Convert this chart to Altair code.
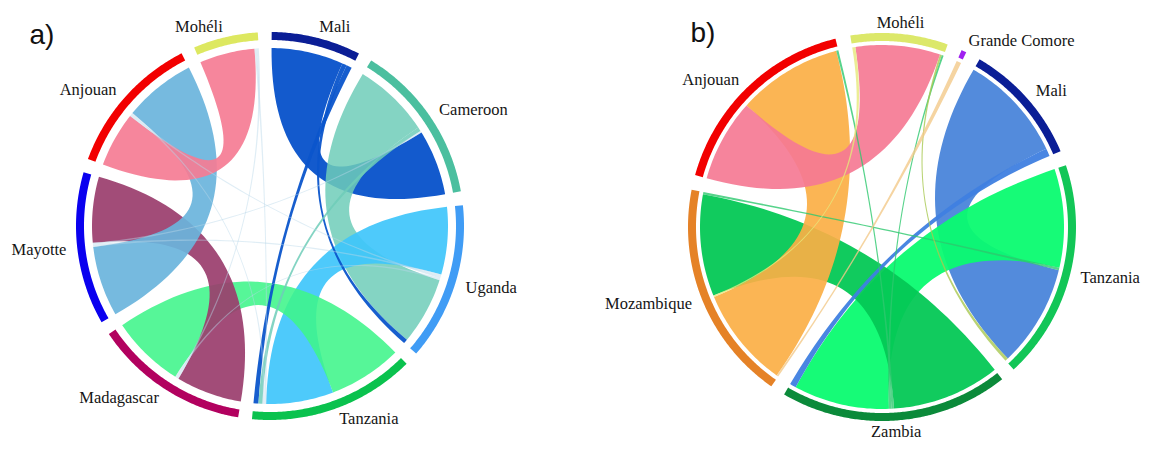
import math
import altair as alt
import pandas as pd

# ---------------- Panel a) data ----------------
a_groups = ["Mali", "Cameroon", "Uganda", "Tanzania", "Madagascar", "Mayotte", "Anjouan", "Mohéli"]
a_group_colors = ["#0B1E96", "#4BBF9F", "#409CF5", "#0AC24E", "#B2015F", "#0A00EF", "#F20000", "#DDE860"]
# chords: source, target, value at source end, value at target end
a_src = ["Mali", "Mali", "Mali", "Cameroon", "Cameroon", "Uganda", "Tanzania", "Madagascar",
         "Mayotte", "Anjouan", "Mohéli", "Mohéli", "Mayotte", "Anjouan", "Madagascar", "Mayotte", "Anjouan"]
a_tgt = ["Cameroon", "Uganda", "Tanzania", "Uganda", "Tanzania", "Tanzania", "Madagascar", "Mayotte",
         "Anjouan", "Mohéli", "Tanzania", "Madagascar", "Uganda", "Uganda", "Uganda", "Cameroon", "Tanzania"]
a_vsrc = [23.5, 1.5, 1.8, 25.0, 1.3, 22.0, 24.0, 21.5, 23.0, 18.0, 0.7, 0.7, 0.7, 0.6, 0.6, 0.6, 0.6]
a_vtgt = [21.4, 1.4, 1.6, 22.0, 1.3, 22.0, 24.0, 21.5, 23.5, 18.0, 0.6, 0.6, 0.7, 0.6, 0.6, 0.6, 0.6]
a_chord_colors = ["#0B55CB", "#0B55CB", "#0B55CB", "#6FCDB8", "#6FCDB8", "#3FC6FB", "#3FF58A", "#9A3D6D",
                  "#6AB4DC", "#F57C94", "#B8D8E8", "#B8D8E8", "#B8D8E8", "#B8D8E8", "#B8D8E8", "#B8D8E8", "#B8D8E8"]
a_chord_alpha = [0.97, 0.95, 0.95, 0.85, 0.85, 0.92, 0.88, 0.92, 0.92, 0.92, 0.45, 0.45, 0.45, 0.45, 0.45, 0.45, 0.45]
# clockwise order of chord ends inside each group
a_end_order = {
    "Mali": [0, 1, 2],
    "Cameroon": [3, 4, 15, 0],
    "Uganda": [5, 12, 13, 14, 3, 1],
    "Tanzania": [6, 5, 10, 16, 4, 2],
    "Madagascar": [7, 11, 14, 6],
    "Mayotte": [8, 12, 15, 7],
    "Anjouan": [9, 13, 16, 8],
    "Mohéli": [9, 10, 11],
}

# ---------------- Panel b) data ----------------
b_groups = ["Mali", "Tanzania", "Zambia", "Mozambique", "Anjouan", "Mohéli", "Grande Comore"]
b_group_colors = ["#0B1E96", "#12C657", "#0B8A3A", "#E58227", "#F20000", "#DCE86A", "#A020F0"]
b_src = ["Mali", "Mali", "Tanzania", "Zambia", "Mozambique", "Anjouan",
         "Zambia", "Zambia", "Tanzania", "Mohéli", "Tanzania", "Grande Comore"]
b_tgt = ["Tanzania", "Zambia", "Zambia", "Mozambique", "Anjouan", "Mohéli",
         "Anjouan", "Mohéli", "Mozambique", "Mozambique", "Mohéli", "Mozambique"]
b_vsrc = [34.3, 2.5, 31.5, 34.5, 32.0, 26.4, 0.8, 0.8, 0.8, 1.0, 1.0, 1.5]
b_vtgt = [32.5, 2.0, 30.5, 32.5, 33.5, 27.0, 0.7, 0.6, 0.7, 0.5, 0.6, 0.6]
b_chord_colors = ["#4A85DA", "#3F7FE0", "#0AFB70", "#04C855", "#FBAF45", "#F57A94",
                  "#2DC86E", "#2DC86E", "#2DC86E", "#E6E87A", "#A8C850", "#F2C98A"]
b_chord_alpha = [0.95, 0.95, 0.95, 0.95, 0.92, 0.92, 0.8, 0.8, 0.8, 0.8, 0.8, 0.8]
b_end_order = {
    "Mali": [0, 1],
    "Tanzania": [2, 8, 0, 10],
    "Zambia": [3, 6, 7, 2, 1],
    "Mozambique": [11, 4, 9, 3, 8],
    "Anjouan": [5, 4, 6],
    "Mohéli": [9, 5, 10, 7],
    "Grande Comore": [11],
}

panel_letters = ["a)", "b)"]

# ---------------- geometry helpers ----------------
def pt(cx, cy, r, deg):
    a = math.radians(deg)
    return (cx + r * math.sin(a), cy - r * math.cos(a))


def arc_pts(cx, cy, r, a0, a1, step=1.0):
    n = max(2, int(abs(a1 - a0) / step) + 2)
    return [pt(cx, cy, r, a0 + (a1 - a0) * i / (n - 1)) for i in range(n)]


def bez(p0, c, p1, n=40):
    out = []
    for i in range(1, n):
        t = i / n
        out.append(((1 - t) ** 2 * p0[0] + 2 * (1 - t) * t * c[0] + t ** 2 * p1[0],
                    (1 - t) ** 2 * p0[1] + 2 * (1 - t) * t * c[1] + t ** 2 * p1[1]))
    return out


def build_panel(tag, groups, gcolors, src, tgt, vs, vt, order, start, cx, cy,
                R, band, rr, lab_r):
    total = 0.0
    for g in groups:
        for ci in order[g]:
            total += vs[ci] if src[ci] == g else vt[ci]
    gap = (360.0 - total) / len(groups)
    spans, ends = {}, {}
    a = start
    for g in groups:
        g0 = a
        for ci in order[g]:
            side = "s" if src[ci] == g else "t"
            v = vs[ci] if side == "s" else vt[ci]
            ends[(ci, side)] = (a, a + v)
            a += v
        spans[g] = (g0, a)
        a += gap
    rows = []
    # ribbons
    for ci in range(len(src)):
        s0, s1 = ends[(ci, "s")]
        t0, t1 = ends[(ci, "t")]
        c = (cx, cy)
        poly = arc_pts(cx, cy, rr, s0, s1)
        poly += bez(pt(cx, cy, rr, s1), c, pt(cx, cy, rr, t0))
        poly += arc_pts(cx, cy, rr, t0, t1)
        poly += bez(pt(cx, cy, rr, t1), c, pt(cx, cy, rr, s0))
        poly.append(poly[0])
        thick = (s1 - s0) + (t1 - t0) > 8
        for i, (x, y) in enumerate(poly):
            rows.append({"id": f"{tag}r{ci}", "i": i, "x": x, "y": y,
                         "kind": "big" if thick else "thin"})
    # group bands
    for g in groups:
        g0, g1 = spans[g]
        poly = arc_pts(cx, cy, R, g0, g1, 0.5) + arc_pts(cx, cy, R - band, g1, g0, 0.5)
        poly.append(poly[0])
        for i, (x, y) in enumerate(poly):
            rows.append({"id": f"{tag}g{g}", "i": i, "x": x, "y": y, "kind": "band"})
    # labels
    labels = []
    for g in groups:
        g0, g1 = spans[g]
        mid = (g0 + g1) / 2
        x, y = pt(cx, cy, lab_r, mid)
        s = math.sin(math.radians(mid))
        align = "left" if s > 0.2 else ("right" if s < -0.2 else "center")
        labels.append({"x": x, "y": y, "text": g, "align": align})
    return rows, labels, spans


rows_a, labels_a, spans_a = build_panel("a", a_groups, a_group_colors, a_src, a_tgt, a_vsrc, a_vtgt,
                                        a_end_order, 0.5, 270, 226, 194, 8, 178, 205)
rows_b, labels_b, spans_b = build_panel("b", b_groups, b_group_colors, b_src, b_tgt, b_vsrc, b_vtgt,
                                        b_end_order, 30.2, 882, 227, 194, 8, 182, 205)

df = pd.DataFrame(rows_a + rows_b)
color_map = {}
alpha_map = {}
for tag, groups, gcol, ccol, calpha in [("a", a_groups, a_group_colors, a_chord_colors, a_chord_alpha),
                                         ("b", b_groups, b_group_colors, b_chord_colors, b_chord_alpha)]:
    for g, c in zip(groups, gcol):
        color_map[f"{tag}g{g}"] = c
        alpha_map[f"{tag}g{g}"] = 1.0
    for ci, (c, al) in enumerate(zip(ccol, calpha)):
        color_map[f"{tag}r{ci}"] = c
        alpha_map[f"{tag}r{ci}"] = al
df["color"] = df["id"].map(color_map)
df["op"] = df["id"].map(alpha_map)

labels = pd.DataFrame(labels_a + labels_b)
letters = pd.DataFrame({"x": [270 - 228, 882 - 179], "y": [226 - 190, 227 - 193], "text": panel_letters})

X = alt.X("x:Q", scale=alt.Scale(domain=[8, 1156], nice=False, zero=False), axis=None)
Y = alt.Y("y:Q", scale=alt.Scale(domain=[8, 441], nice=False, zero=False, reverse=True), axis=None)


def shape_layer(kind):
    return alt.Chart(df[df["kind"] == kind]).mark_line(filled=True, strokeWidth=0, interpolate="linear").encode(
        x=X, y=Y, detail="id:N", order="i:Q",
        color=alt.Color("color:N", scale=None),
        opacity=alt.Opacity("op:Q", scale=None),
    )


def text_layer(align):
    return alt.Chart(labels[labels["align"] == align]).mark_text(
        align=align, baseline="middle", font="Liberation Serif", fontSize=16.5, color="#151515"
    ).encode(x=X, y=Y, text="text:N")


letter_layer = alt.Chart(letters).mark_text(
    align="center", baseline="middle", font="Liberation Sans", fontSize=28, color="#111111"
).encode(x=X, y=Y, text="text:N")

chart = alt.layer(
    shape_layer("big"), shape_layer("thin"), shape_layer("band"),
    text_layer("left"), text_layer("right"), text_layer("center"), letter_layer,
).properties(
    width=1148, height=433, padding=0,
    autosize=alt.AutoSizeParams(type="none"),
    background="white",
).configure_view(strokeWidth=0)

chart.save("out.html", embed_options={"renderer": "svg", "actions": False})
